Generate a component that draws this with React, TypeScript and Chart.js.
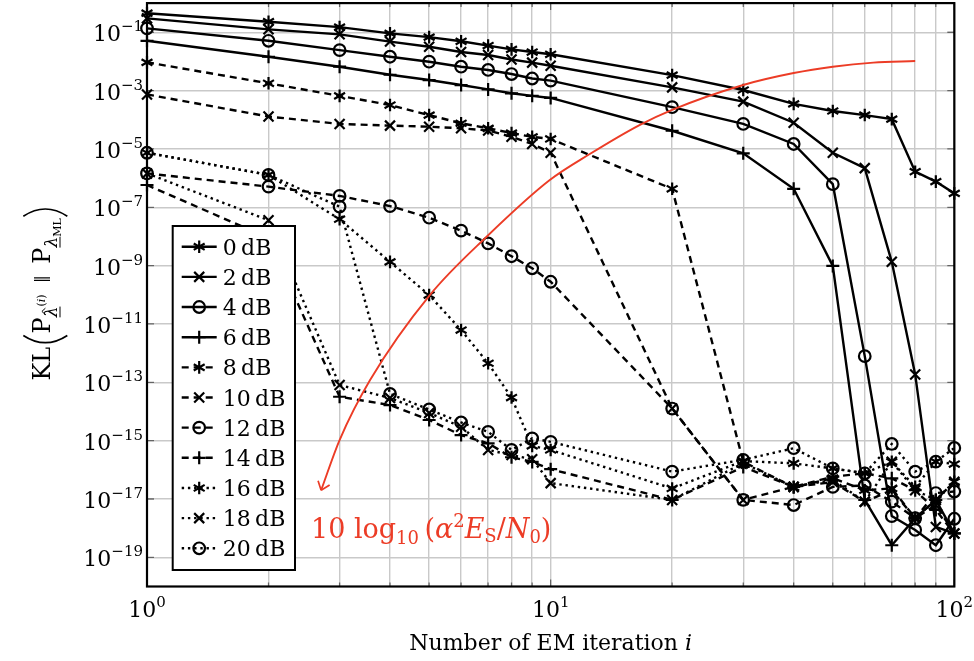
import { useEffect, useRef } from 'react';
import { Chart, registerables } from 'chart.js';

Chart.register(...registerables);

// ---------------- data ----------------
const iterations = [1, 2, 3, 4, 5, 6, 7, 8, 9, 10, 20, 30, 40, 50, 60, 70, 80, 90, 100];
const snrValues = [0, 2, 4, 6, 8, 10, 12, 14, 16, 18, 20];

const kl0dB = [4.5e-1, 2.3e-1, 1.5e-1, 9.2e-2, 6.8e-2, 4.9e-2, 3.5e-2, 2.6e-2, 2.1e-2, 1.76e-2, 3.4e-3, 1.05e-3, 3.5e-4, 2.0e-4, 1.45e-4, 1.05e-4, 1.66e-6, 7.6e-7, 3.0e-7];
const kl2dB = [3.0e-1, 1.26e-1, 8.5e-2, 4.8e-2, 3.2e-2, 2.1e-2, 1.66e-2, 1.17e-2, 9.1e-3, 7.1e-3, 1.29e-3, 4.2e-4, 7.9e-5, 7.4e-6, 2.2e-6, 1.35e-9, 1.86e-13, 1.1e-18, 6.6e-19];
const kl4dB = [1.36e-1, 5.1e-2, 2.45e-2, 1.45e-2, 9.8e-3, 6.6e-3, 5.1e-3, 3.7e-3, 2.6e-3, 2.2e-3, 2.7e-4, 7.2e-5, 1.48e-5, 6.2e-7, 7.9e-13, 2.6e-18, 8.7e-19, 2.6e-19, 2.1e-18];
const kl6dB = [5.1e-2, 1.45e-2, 6.6e-3, 3.5e-3, 2.3e-3, 1.55e-3, 1.1e-3, 8.1e-4, 6.6e-4, 5.6e-4, 4.2e-5, 7.1e-6, 4.3e-7, 9.8e-10, 9.3e-18, 2.6e-19, 2.2e-18, 9.3e-18, 6.6e-19];
const kl8dB = [9.3e-3, 1.78e-3, 6.6e-4, 3.2e-4, 1.45e-4, 7.6e-5, 5.1e-5, 3.5e-5, 2.6e-5, 2.2e-5, 4.3e-7, 1.9e-16, 2.5e-17, 5.2e-17, 2.0e-17, 2.3e-17, 2.2e-18, 9.3e-18, 3.9e-17];
const kl10dB = [7.4e-4, 1.29e-4, 7.2e-5, 6.3e-5, 5.8e-5, 5.1e-5, 4.3e-5, 2.6e-5, 1.48e-5, 7.4e-6, 1.26e-14, 9.3e-18, 2.6e-17, 3.8e-17, 8.1e-18, 2.0e-17, 2.2e-18, 6.2e-18, 6.6e-19];
const kl12dB = [1.45e-6, 5.1e-7, 2.45e-7, 1.1e-7, 4.4e-8, 1.58e-8, 5.8e-9, 2.1e-9, 8.1e-10, 2.8e-10, 1.26e-14, 9.3e-18, 6.2e-18, 2.6e-17, 2.9e-17, 8.1e-18, 2.2e-18, 1.6e-17, 1.8e-17];
const kl14dB = [5.8e-7, 8.9e-9, 3.2e-14, 1.66e-14, 5.1e-15, 1.55e-15, 8.1e-16, 2.7e-16, 1.86e-16, 1.05e-16, 9.3e-18, 1.26e-16, 2.6e-17, 5.8e-17, 7.6e-17, 5.1e-17, 2.0e-17, 4.2e-18, 6.6e-19];
const kl16dB = [7.4e-6, 1.29e-6, 3.9e-8, 1.35e-9, 9.8e-11, 6.2e-12, 4.5e-13, 3.0e-14, 6.6e-16, 4.8e-16, 2.3e-17, 2.0e-16, 1.66e-16, 1.12e-16, 7.6e-17, 1.9e-16, 2.6e-17, 1.9e-16, 1.58e-16];
const kl18dB = [1.45e-6, 3.6e-8, 8.1e-14, 2.9e-14, 8.9e-15, 3.0e-15, 4.8e-16, 3.2e-16, 2.3e-16, 3.5e-17, 9.3e-18, 1.7e-16, 2.6e-17, 4.5e-17, 8.1e-18, 1.9e-16, 2.0e-17, 9.3e-18, 3.9e-17];
const kl20dB = [7.4e-6, 1.29e-6, 1.05e-7, 4.0e-14, 1.17e-14, 4.2e-15, 2.0e-15, 4.8e-16, 1.2e-15, 9.1e-16, 8.7e-17, 2.2e-16, 5.5e-16, 1.12e-16, 7.6e-17, 7.7e-16, 8.7e-17, 1.9e-16, 5.6e-16];

const seriesValues = [kl0dB, kl2dB, kl4dB, kl6dB, kl8dB, kl10dB, kl12dB, kl14dB, kl16dB, kl18dB, kl20dB];

// red annotation curve (arrow towards increasing SNR)
const snrArrowX = [2.7, 3.0, 3.57, 5.02, 6.94, 9.95, 12.5, 16.6, 20, 30, 40, 50, 63, 80];
const snrArrowY = [2.0e-17, 1.05e-15, 1.2e-13, 9.8e-11, 9.8e-9, 8.6e-7, 6.7e-6, 6.6e-5, 2.2e-4, 1.56e-3, 4.0e-3, 6.6e-3, 9.1e-3, 1.03e-2];

// tick definitions
const xTickValues = iterations;
const xLabelExponents = [0, 1, 2];
const yLabelExponents = [-1, -3, -5, -7, -9, -11, -13, -15, -17, -19];

// ---------------- styling helpers ----------------
const FONT = '"DejaVu Serif", "Liberation Serif", serif';
const THIN = '"Liberation Serif", "DejaVu Serif", serif';
const RED = 'rgb(236, 60, 38)';
const markerCycle = ['asterisk', 'x', 'o', '+'];
const LINE_W = 2.4;

function dashFor(i: number): number[] {
  if (i < 4) return [];
  if (i < 8) return [7, 5];
  return [2.4, 3.8];
}

function drawMarker(ctx: CanvasRenderingContext2D, kind: string, x: number, y: number) {
  ctx.beginPath();
  if (kind === 'asterisk') {
    const r = 6.3;
    for (const deg of [90, 30, -30]) {
      const t = (deg * Math.PI) / 180;
      const dx = r * Math.cos(t);
      const dy = r * Math.sin(t);
      ctx.moveTo(x - dx, y - dy);
      ctx.lineTo(x + dx, y + dy);
    }
  } else if (kind === 'x') {
    const d = 5;
    ctx.moveTo(x - d, y - d);
    ctx.lineTo(x + d, y + d);
    ctx.moveTo(x - d, y + d);
    ctx.lineTo(x + d, y - d);
  } else if (kind === 'o') {
    ctx.arc(x, y, 5.8, 0, Math.PI * 2);
  } else {
    const r = 6.5;
    ctx.moveTo(x - r, y);
    ctx.lineTo(x + r, y);
    ctx.moveTo(x, y - r);
    ctx.lineTo(x, y + r);
  }
  ctx.stroke();
}

type Run = {
  t: string;
  size: number;
  dy?: number;
  italic?: boolean;
  hat?: boolean;
  under?: boolean;
  family?: string;
  paren?: 'l' | 'r';
};

function runFont(r: Run) {
  return `${r.italic ? 'italic ' : ''}${r.size}px ${r.family ?? FONT}`;
}
function runWidth(ctx: CanvasRenderingContext2D, r: Run) {
  if (r.paren) return r.size * 0.3;
  ctx.font = runFont(r);
  return ctx.measureText(r.t).width;
}
function runsWidth(ctx: CanvasRenderingContext2D, runs: Run[]) {
  let w = 0;
  for (const r of runs) w += runWidth(ctx, r);
  return w;
}
function drawRuns(ctx: CanvasRenderingContext2D, runs: Run[], x: number, y: number) {
  let cx = x;
  for (const r of runs) {
    const w = runWidth(ctx, r);
    const by = y + (r.dy ?? 0);
    if (r.paren) {
      // tall thin delimiter drawn as a curve
      const top = by - r.size * 0.72;
      const bot = by + r.size * 0.28;
      const mid = (top + bot) / 2;
      const inner = r.paren === 'l' ? cx + w * 0.85 : cx + w * 0.15;
      const outer = r.paren === 'l' ? cx - w * 0.25 : cx + w * 1.25;
      ctx.beginPath();
      ctx.moveTo(inner, top);
      ctx.quadraticCurveTo(outer, mid, inner, bot);
      ctx.lineWidth = 1.7;
      ctx.stroke();
    } else {
      ctx.font = runFont(r);
      ctx.fillText(r.t, cx, by);
      if (r.hat) {
        const top = by - r.size * 0.8;
        ctx.beginPath();
        ctx.moveTo(cx + w * 0.25, top + 2);
        ctx.lineTo(cx + w * 0.55, top - 1.5);
        ctx.lineTo(cx + w * 0.85, top + 2);
        ctx.lineWidth = 1;
        ctx.stroke();
      }
      if (r.under) {
        ctx.beginPath();
        ctx.moveTo(cx, by + 3);
        ctx.lineTo(cx + w, by + 3);
        ctx.lineWidth = 1;
        ctx.stroke();
      }
    }
    cx += w;
  }
}

function drawPow(ctx: CanvasRenderingContext2D, exp: number, x: number, y: number, align: 'right' | 'center') {
  const runs: Run[] = [
    { t: '10', size: 22 },
    { t: exp < 0 ? '\u2212' + Math.abs(exp) : String(exp), size: 15, dy: -10 },
  ];
  const w = runsWidth(ctx, runs);
  const sx = align === 'right' ? x - w : x - w / 2;
  drawRuns(ctx, runs, sx, y);
}

const pgfPlugin = {
  id: 'pgfLook',
  beforeDatasetsDraw(chart: any) {
    const { ctx, chartArea: a, scales } = chart;
    ctx.save();
    ctx.strokeStyle = 'rgba(0,0,0,0.5)';
    ctx.lineWidth = 1.3;
    ctx.beginPath();
    for (const e of yLabelExponents) {
      const y = scales.y.getPixelForValue(Math.pow(10, e));
      ctx.moveTo(a.left, y);
      ctx.lineTo(a.left + 7, y);
      ctx.moveTo(a.right - 7, y);
      ctx.lineTo(a.right, y);
    }
    for (const v of xTickValues) {
      const x = scales.x.getPixelForValue(v);
      const major = v === 1 || v === 10 || v === 100;
      const len = major ? 7 : 4;
      ctx.moveTo(x, a.bottom);
      ctx.lineTo(x, a.bottom - len);
      ctx.moveTo(x, a.top);
      ctx.lineTo(x, a.top + len);
    }
    ctx.stroke();
    ctx.strokeStyle = '#000';
    ctx.lineWidth = 2.2;
    ctx.strokeRect(a.left, a.top, a.right - a.left, a.bottom - a.top);
    ctx.restore();
  },
  afterDatasetDraw(chart: any, args: any) {
    const ds = chart.data.datasets[args.index];
    const pts = args.meta.data;
    const ctx: CanvasRenderingContext2D = chart.ctx;
    ctx.save();
    if (ds.markerKind) {
      ctx.setLineDash([]);
      ctx.strokeStyle = '#000';
      ctx.lineWidth = 2.2;
      for (const p of pts) drawMarker(ctx, ds.markerKind, p.x, p.y);
    }
    if (ds.arrowTip) {
      const p0 = pts[0];
      const p1 = pts[1];
      const dx = p0.x - p1.x;
      const dy = p0.y - p1.y;
      const len = Math.hypot(dx, dy);
      const ux = dx / len;
      const uy = dy / len;
      const L = 10;
      ctx.strokeStyle = RED;
      ctx.lineWidth = 1.7;
      ctx.setLineDash([]);
      ctx.beginPath();
      for (const s of [1, -1]) {
        const ang = (s * 38 * Math.PI) / 180;
        const bx = -(ux * Math.cos(ang) - uy * Math.sin(ang));
        const by = -(ux * Math.sin(ang) + uy * Math.cos(ang));
        ctx.moveTo(p0.x + bx * L, p0.y + by * L);
        ctx.lineTo(p0.x, p0.y);
      }
      ctx.stroke();
    }
    ctx.restore();
  },
  afterDraw(chart: any) {
    const { ctx, chartArea: a, scales } = chart;
    ctx.save();
    ctx.fillStyle = '#000';
    ctx.strokeStyle = '#000';
    ctx.textAlign = 'left';
    ctx.textBaseline = 'alphabetic';

    // y tick labels
    for (const e of yLabelExponents) {
      const y = scales.y.getPixelForValue(Math.pow(10, e));
      drawPow(ctx, e, a.left - 4, y + 9, 'right');
    }
    // x tick labels
    for (const e of xLabelExponents) {
      const x = scales.x.getPixelForValue(Math.pow(10, e));
      drawPow(ctx, e, x, a.bottom + 30, 'center');
    }
    // x title
    const xt: Run[] = [
      { t: 'Number of EM iteration ', size: 22 },
      { t: 'i', size: 22, italic: true },
    ];
    drawRuns(ctx, xt, (a.left + a.right) / 2 - runsWidth(ctx, xt) / 2, a.bottom + 63);

    // y title (rotated)
    const yt: Run[] = [
      { t: 'KL', size: 24 },
      { t: '', size: 44, dy: 5, paren: 'l' },
      { t: 'P', size: 24 },
      { t: 'λ', size: 17, dy: 7, italic: true, hat: true, under: true },
      { t: '(', size: 11, dy: -5 },
      { t: 'i', size: 11, dy: -5, italic: true },
      { t: ')', size: 11, dy: -5 },
      { t: '  \u2016  ', size: 24, family: THIN },
      { t: 'P', size: 24 },
      { t: 'λ', size: 17, dy: 7, italic: true, under: true },
      { t: 'ML', size: 11, dy: 11 },
      { t: '', size: 44, dy: 5, paren: 'r' },
    ];
    ctx.save();
    ctx.translate(50, (a.top + a.bottom) / 2 - 2);
    ctx.rotate(-Math.PI / 2);
    drawRuns(ctx, yt, -runsWidth(ctx, yt) / 2, 0);
    ctx.restore();

    // red annotation label
    ctx.fillStyle = RED;
    ctx.strokeStyle = RED;
    const rl: Run[] = [
      { t: '10 log', size: 27 },
      { t: '10', size: 18, dy: 6 },
      { t: '\u2009(', size: 27 },
      { t: 'α', size: 27, italic: true },
      { t: '2', size: 18, dy: -11 },
      { t: 'E', size: 27, italic: true },
      { t: 'S', size: 18, dy: 4 },
      { t: '/', size: 27 },
      { t: 'N', size: 27, italic: true },
      { t: '0', size: 18, dy: 5 },
      { t: ')', size: 27 },
    ];
    drawRuns(ctx, rl, 311, 538);

    // legend
    const lg = { left: 172.7, top: 226, right: 295, bottom: 570, row0: 246.7, step: 30.16, sL: 181.7, sR: 216.7, tx: 222.7 };
    ctx.fillStyle = '#fff';
    ctx.fillRect(lg.left, lg.top, lg.right - lg.left, lg.bottom - lg.top);
    ctx.strokeStyle = '#000';
    ctx.lineWidth = 2;
    ctx.strokeRect(lg.left, lg.top, lg.right - lg.left, lg.bottom - lg.top);
    snrValues.forEach((snr, i) => {
      const y = lg.row0 + i * lg.step;
      ctx.strokeStyle = '#000';
      ctx.lineWidth = LINE_W;
      ctx.setLineDash(dashFor(i));
      ctx.beginPath();
      ctx.moveTo(lg.sL, y);
      ctx.lineTo(lg.sR, y);
      ctx.stroke();
      ctx.setLineDash([]);
      ctx.lineWidth = 2.2;
      drawMarker(ctx, markerCycle[i % 4], (lg.sL + lg.sR) / 2, y);
      ctx.fillStyle = '#000';
      ctx.font = `22px ${FONT}`;
      ctx.fillText(`${snr}\u2009dB`, lg.tx, y + 8);
    });
    ctx.restore();
  },
};

export default function App() {
  const ref = useRef<HTMLCanvasElement>(null);
  useEffect(() => {
    const canvas = ref.current;
    if (!canvas) return;
    const datasets: any[] = seriesValues.map((vals, i) => ({
      label: `${snrValues[i]} dB`,
      data: iterations.map((x, j) => ({ x, y: vals[j] })),
      borderColor: '#000',
      borderWidth: LINE_W,
      borderDash: dashFor(i),
      pointRadius: 0,
      pointHoverRadius: 0,
      fill: false,
      tension: 0,
      clip: false,
      order: 20 - i,
      markerKind: markerCycle[i % 4],
    }));
    datasets.push({
      label: 'snr arrow',
      data: snrArrowX.map((x, j) => ({ x, y: snrArrowY[j] })),
      borderColor: RED,
      borderWidth: 1.9,
      pointRadius: 0,
      pointHoverRadius: 0,
      fill: false,
      cubicInterpolationMode: 'monotone',
      clip: false,
      order: 0,
      arrowTip: true,
    });
    const gridOpts = { color: '#c9c9c9', lineWidth: 1.4, drawTicks: false };
    const chart = new Chart(canvas, {
      type: 'line',
      data: { datasets },
      options: {
        animation: false,
        responsive: false,
        devicePixelRatio: 1,
        events: [],
        layout: { padding: { left: 0, top: 3.1, right: 19.7, bottom: 0 } },
        plugins: { legend: { display: false }, tooltip: { enabled: false } },
        scales: {
          x: {
            type: 'logarithmic',
            min: 1,
            max: 100,
            afterBuildTicks: (s: any) => {
              s.ticks = xTickValues.map((v) => ({ value: v }));
            },
            afterFit: (s: any) => {
              s.height = 74.5;
            },
            ticks: { display: false },
            grid: gridOpts,
            border: { display: false },
          },
          y: {
            type: 'logarithmic',
            min: 1e-20,
            max: 1,
            afterBuildTicks: (s: any) => {
              s.ticks = yLabelExponents.map((e) => ({ value: Math.pow(10, e) }));
            },
            afterFit: (s: any) => {
              s.width = 147;
            },
            ticks: { display: false },
            grid: gridOpts,
            border: { display: false },
          },
        },
      } as any,
      plugins: [pgfPlugin as any],
    });
    return () => chart.destroy();
  }, []);
  return (
    <div style={{ position: 'absolute', left: 0, top: 0, width: 974, height: 661, background: '#fff' }}>
      <canvas ref={ref} width={974} height={661} style={{ display: 'block', width: 974, height: 661 }} />
    </div>
  );
}
